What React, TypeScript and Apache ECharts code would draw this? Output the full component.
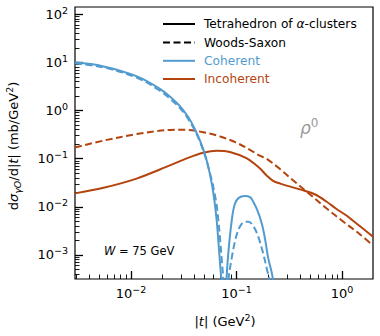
import React, { useEffect, useRef } from 'react';
import * as echarts from 'echarts';

// ---- data (|t| in GeV^2, dσ/d|t| in mb/GeV^2) ----
const cohTetraT = [0.00295, 0.0054, 0.0114, 0.0188, 0.0245, 0.0291, 0.0335, 0.0375, 0.0412, 0.045, 0.049, 0.0525, 0.0557, 0.059, 0.062, 0.065, 0.0675, 0.070, 0.0722, 0.0745, 0.076,
  0.0778, 0.0803, 0.0835, 0.0897, 0.096, 0.105, 0.12, 0.135, 0.144, 0.157, 0.173, 0.186, 0.199, 0.222, 0.232];
const cohTetraY = [10.0, 8.3, 5.1, 2.82, 1.78, 1.23, 0.83, 0.56, 0.37, 0.24, 0.145, 0.087, 0.050, 0.026, 0.0126, 0.0050, 0.00178, 6.3e-4, 2.5e-4, 4e-5, 1e-6,
  4e-5, 2.95e-4, 1.05e-3, 4.8e-3, 0.0112, 0.0153, 0.0167, 0.0157, 0.0127, 0.0086, 0.0046, 0.0022, 8.9e-4, 2.95e-4, 2e-5];

const cohWST = [0.00295, 0.0054, 0.0114, 0.0188, 0.0245, 0.0291, 0.0335, 0.0375, 0.0412, 0.045, 0.049, 0.0525, 0.0557, 0.059, 0.062, 0.065, 0.0675, 0.070, 0.0725, 0.0755, 0.0775, 0.0795,
  0.081, 0.0835, 0.0897, 0.0964, 0.103, 0.111, 0.12, 0.13, 0.145, 0.16, 0.178, 0.192, 0.207, 0.215];
const cohWSY = [9.5, 7.9, 4.8, 2.57, 1.62, 1.12, 0.76, 0.51, 0.35, 0.224, 0.138, 0.085, 0.052, 0.032, 0.019, 0.0105, 0.0050, 0.0020, 7.9e-4, 2.5e-4, 5e-5, 1e-6,
  5e-5, 2.8e-4, 8.2e-4, 1.85e-3, 3.1e-3, 4.3e-3, 4.9e-3, 4.9e-3, 3.9e-3, 2.45e-3, 1.12e-3, 5.6e-4, 2.5e-4, 3e-5];

const incWST = [0.00295, 0.0055, 0.0113, 0.0175, 0.0234, 0.032, 0.0483, 0.07, 0.100, 0.135, 0.166, 0.192, 0.26, 0.343, 0.494, 0.71, 1.03, 1.47, 1.96];
const incWSY = [0.17, 0.237, 0.324, 0.372, 0.394, 0.398, 0.355, 0.288, 0.214, 0.151, 0.115, 0.100, 0.060, 0.0355, 0.0182, 0.0093, 0.0049, 0.0027, 0.00158];

const incTetraT = [0.00295, 0.0055, 0.0113, 0.0234, 0.0337, 0.0483, 0.0648, 0.0865, 0.124, 0.166, 0.195, 0.222, 0.26, 0.298, 0.428, 0.55, 0.71, 0.88, 1.10, 1.26, 1.47, 1.96];
const incTetraY = [0.019, 0.0248, 0.0385, 0.0724, 0.101, 0.132, 0.146, 0.138, 0.102, 0.063, 0.0437, 0.0347, 0.0302, 0.0275, 0.0219, 0.0182, 0.0129, 0.0091, 0.0066, 0.0052, 0.0040, 0.0024];

// ---- axes (log10 exponents) ----
const xMinExp = -2.53;
const xMaxExp = 0.293;
const yMinExp = -3.5;
const yMaxExp = 2.15;
const xMajorExps = [-2, -1, 0];
const yMajorExps = [-3, -2, -1, 0, 1, 2];
const legendLabels = ['Tetrahedron of α-clusters', 'Woods-Saxon', 'Coherent', 'Incoherent'];

const BLUE = '#529bcf';
const ORANGE = '#b4440e';
const FONT = 'DejaVu Sans';

function minorTicks(lo: number, hi: number): number[] {
  const out: number[] = [];
  for (let n = Math.floor(lo) - 1; n <= Math.ceil(hi); n++) {
    for (let k = 2; k <= 9; k++) {
      const v = n + Math.log10(k);
      if (v > lo && v < hi) out.push(v);
    }
  }
  return out;
}

const toLog = (ts: number[], ys: number[]) => ts.map((t, i) => [Math.log10(t), Math.log10(ys[i])]);

const supFmt = (v: number) => {
  const e = Math.round(v);
  const s = e < 0 ? '\u2212' + -e : String(e);
  return `{b|10}{s|${s}}`;
};

const tickRich = {
  b: { fontFamily: FONT, fontSize: 13, color: '#000', lineHeight: 18 },
  s: { fontFamily: FONT, fontSize: 9.5, color: '#000', lineHeight: 9, verticalAlign: 'top' },
};

export default function App() {
  const ref = useRef<HTMLDivElement>(null);
  useEffect(() => {
    const chart = echarts.init(ref.current!, null, { renderer: 'svg' });
    const common = { type: 'line', showSymbol: false, smooth: 0.35, clip: true, z: 3 };
    const legendY = [24, 42.5, 60.8, 79];
    const legendColors = ['#000', '#000', BLUE, ORANGE];
    const graphics: any[] = [];
    legendLabels.forEach((lab, i) => {
      graphics.push({
        type: 'line',
        shape: { x1: 163, y1: legendY[i], x2: 195, y2: legendY[i] },
        style: { stroke: legendColors[i], lineWidth: 2, lineDash: i === 1 ? [7, 3.5] : null },
        z: 10,
      });
      const txt = lab.replace('α', '{i|α}');
      graphics.push({
        type: 'text',
        x: 204,
        y: legendY[i],
        style: {
          text: txt,
          fontFamily: FONT,
          fontSize: 12.2,
          fill: legendColors[i],
          verticalAlign: 'middle',
          align: 'left',
          rich: { i: { fontFamily: FONT, fontSize: 12.2, fontStyle: 'italic', color: legendColors[i] } },
        },
        z: 10,
      });
    });
    graphics.push({
      type: 'text',
      x: 300,
      y: 128,
      style: {
        text: '{r|ρ}{s|0}',
        fill: '#999',
        align: 'left',
        verticalAlign: 'middle',
        rich: {
          r: { fontFamily: FONT, fontSize: 17, fontStyle: 'italic', color: '#999', lineHeight: 22 },
          s: { fontFamily: FONT, fontSize: 12, color: '#999', lineHeight: 12, verticalAlign: 'top' },
        },
      },
      z: 10,
    });
    graphics.push({
      type: 'text',
      x: 104,
      y: 251,
      style: {
        text: '{i|W} = 75 GeV',
        fontFamily: FONT,
        fontSize: 11.5,
        fill: '#000',
        align: 'left',
        verticalAlign: 'middle',
        rich: { i: { fontFamily: FONT, fontSize: 11.5, fontStyle: 'italic', color: '#000' } },
      },
      z: 10,
    });
    graphics.push({
      type: 'text',
      x: 225,
      y: 321,
      style: {
        text: '|{i|t}| (GeV{s|2})',
        fontFamily: FONT,
        fontSize: 13,
        fill: '#000',
        align: 'center',
        verticalAlign: 'middle',
        rich: {
          i: { fontFamily: FONT, fontSize: 13, fontStyle: 'italic', color: '#000', lineHeight: 18 },
          s: { fontFamily: FONT, fontSize: 9.5, color: '#000', lineHeight: 9, verticalAlign: 'top' },
        },
      },
      z: 10,
    });
    graphics.push({
      type: 'text',
      x: 13,
      y: 146,
      rotation: Math.PI / 2,
      style: {
        text: 'd{i|σ}{sub|γO}/d|{i|t}| (mb/GeV{s|2})',
        fontFamily: FONT,
        fontSize: 13,
        fill: '#000',
        align: 'center',
        verticalAlign: 'middle',
        rich: {
          i: { fontFamily: FONT, fontSize: 13, fontStyle: 'italic', color: '#000', lineHeight: 18 },
          sub: { fontFamily: FONT, fontSize: 9.5, fontStyle: 'italic', color: '#000', lineHeight: 10, verticalAlign: 'bottom' },
          s: { fontFamily: FONT, fontSize: 9.5, color: '#000', lineHeight: 9, verticalAlign: 'top' },
        },
      },
      z: 10,
    });

    const xBase = { type: 'value', min: xMinExp, max: xMaxExp, position: 'bottom', splitLine: { show: false }, axisLine: { show: false, onZero: false } };
    const yBase = { type: 'value', min: yMinExp, max: yMaxExp, position: 'left', splitLine: { show: false }, axisLine: { show: false, onZero: false } };

    chart.setOption({
      animation: false,
      backgroundColor: '#fff',
      grid: { left: 75, right: 7, top: 7, bottom: 57, show: true, borderColor: '#000', borderWidth: 1.2, backgroundColor: 'transparent' },
      xAxis: [
        {
          ...xBase,
          axisTick: { show: true, inside: true, length: 8, customValues: xMajorExps, lineStyle: { color: '#000', width: 1.3 } },
          axisLabel: { show: true, customValues: xMajorExps, margin: 5, formatter: supFmt, rich: tickRich },
        },
        {
          ...xBase,
          axisTick: { show: true, inside: true, length: 4.5, customValues: minorTicks(xMinExp, xMaxExp), lineStyle: { color: '#000', width: 0.9 } },
          axisLabel: { show: false },
        },
      ],
      yAxis: [
        {
          ...yBase,
          axisTick: { show: true, inside: true, length: 8, customValues: yMajorExps, lineStyle: { color: '#000', width: 1.3 } },
          axisLabel: { show: true, customValues: yMajorExps, margin: 7, formatter: supFmt, rich: tickRich },
        },
        {
          ...yBase,
          axisTick: { show: true, inside: true, length: 4.5, customValues: minorTicks(yMinExp, yMaxExp), lineStyle: { color: '#000', width: 0.9 } },
          axisLabel: { show: false },
        },
      ],
      series: [
        { ...common, name: 'incWS', data: toLog(incWST, incWSY), lineStyle: { color: ORANGE, width: 2, type: [7, 3.5] } },
        { ...common, name: 'incTetra', data: toLog(incTetraT, incTetraY), lineStyle: { color: ORANGE, width: 2 } },
        { ...common, name: 'cohWS', data: toLog(cohWST, cohWSY), lineStyle: { color: BLUE, width: 2, type: [7, 3.5] } },
        { ...common, name: 'cohTetra', data: toLog(cohTetraT, cohTetraY), lineStyle: { color: BLUE, width: 2 } },
      ],
      graphic: graphics,
    });
    return () => chart.dispose();
  }, []);
  return <div ref={ref} style={{ position: 'absolute', left: 0, top: 0, width: 380, height: 336 }} />;
}
